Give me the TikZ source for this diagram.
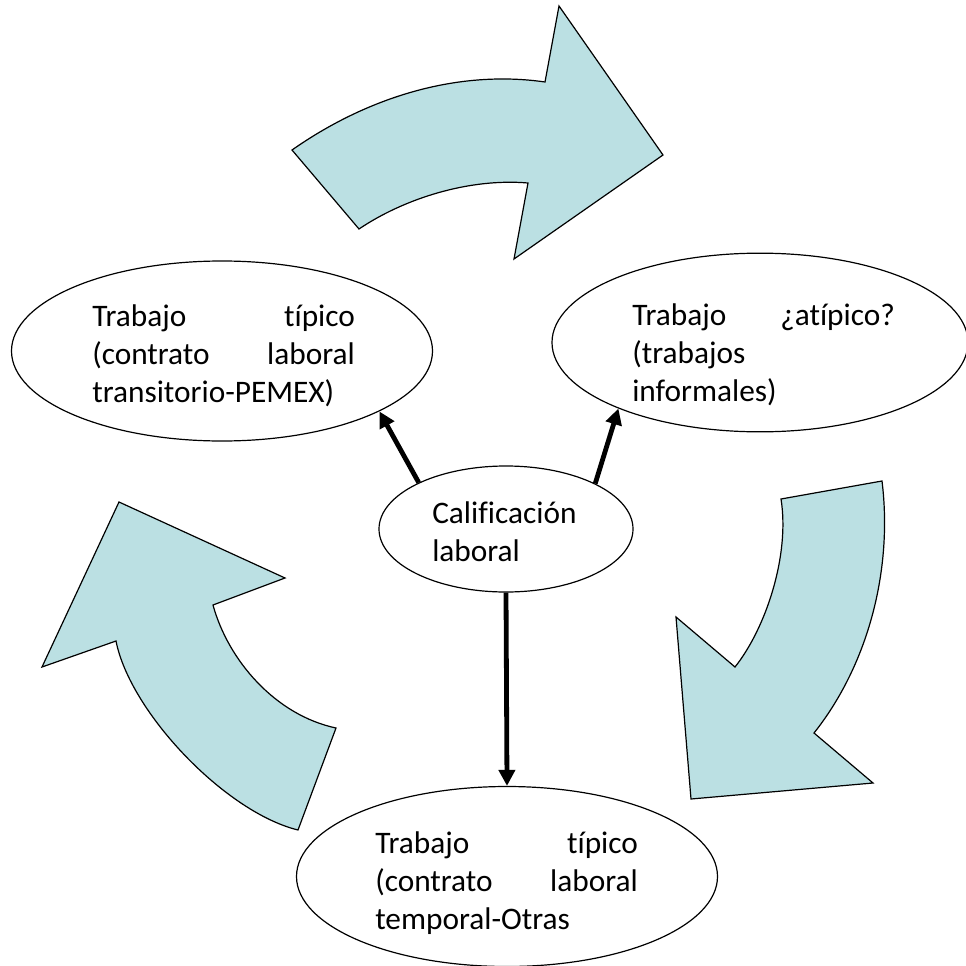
\documentclass[tikz,border=0pt]{standalone}
\usepackage{fontspec}
\setmainfont{Carlito}[Ligatures=NoCommon]
\usepackage{tikz}
\usetikzlibrary{arrows.meta, shapes}
\definecolor{flecha}{RGB}{187,224,227}

\begin{document}
\begin{tikzpicture}[x=0.75pt,y=-0.75pt]
            \useasboundingbox (0,0) rectangle (965,966);

            % flechas curvas
            \begin{scope}[fill=flecha, draw=black, line width=0.9pt, line join=miter]
                \filldraw (292,150) .. controls (372,94) and (462,70) .. (545,82) -- (559,6) -- (663,155)
                    -- (514,259) -- (528,183) .. controls (470,178) and (405,198) .. (359,229) -- cycle;
                \filldraw (781,499) -- (882,481) .. controls (893,570) and (868,665) .. (814,733)
                    -- (873,783) -- (691,799) -- (676,617) -- (735,667)
                    .. controls (766,628) and (790,555) .. (781,499) -- cycle;
                \filldraw (119,502) -- (285,578) -- (213,605) .. controls (228,660) and (275,715) .. (336,728)
                    -- (298,830) .. controls (225,812) and (130,712) .. (116,641) -- (42,667) -- cycle;
            \end{scope}

            \begin{scope}[every node/.style={ellipse,draw,line width=0.9pt,inner sep=0pt}]
                \node[minimum width=315.75pt, minimum height=135pt] (tip1) at (222,351) {};
                \node[minimum width=312pt, minimum height=134pt] (atip) at (760,342.5) {};
                \node[minimum width=190.5pt, minimum height=94.5pt] (calif) at (506,529) {};
                \node[minimum width=315.75pt, minimum height=135pt] (tip2) at (507,876.5) {};
            \end{scope}

            \begin{scope}[every node/.style={anchor=base west,inner sep=0pt,text width=197pt,align=justify,
                          font=\fontsize{23.5}{28.5}\selectfont}]
                \node (t1) at (92,326) {Trabajo típico\linebreak (contrato laboral\linebreak transitorio-PEMEX)};
                \node (t2) at (632,325) {Trabajo ¿atípico?\linebreak (trabajos\\ informales)};
                \node (t3) at (375,853) {Trabajo típico\linebreak (contrato laboral\linebreak temporal-Otras};
                \node[text width=140pt, align=left] (t4) at (432,523) {Calificación\\ laboral};
            \end{scope}

            \begin{scope}[>={Triangle[length=12pt,width=12pt]},
                          every edge/.style={draw=black, line width=3.6pt}]
                \path[->] (calif.152.7) edge (tip1.-21.5);
                \path[->] (calif.27.3) edge (atip.-155.7);
                \path[->] (calif.south) edge (tip2.north);
            \end{scope}
\end{tikzpicture}
\end{document}
